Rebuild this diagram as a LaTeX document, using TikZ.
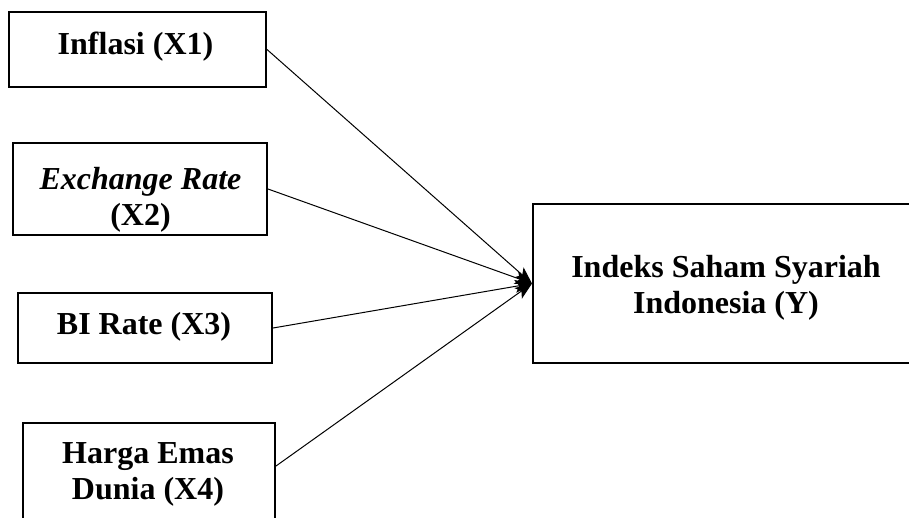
\documentclass[tikz,border=0pt]{standalone}
\usepackage{fontspec}
\setmainfont{Liberation Serif}
\usetikzlibrary{arrows.meta}
\begin{document}
\begin{tikzpicture}[x=1pt,y=1pt,
  varbox/.style={draw=black,line width=2pt,rectangle,inner sep=0pt},
  lbl/.style={font=\fontsize{32}{36}\selectfont\bfseries,align=center,anchor=base,inner sep=0pt},
  conn/.style={draw=black,line width=1pt,-{Stealth[length=17pt,width=13pt,inset=4pt]}}]
\clip (0,0) rectangle (909,-517);
\useasboundingbox (0,0) rectangle (909,-517);
% boxes
\node[varbox,minimum width=257pt,minimum height=75pt] (x1) at (137.5,-49.5) {};
\node[varbox,minimum width=254pt,minimum height=92pt] (x2) at (140,-189) {};
\node[varbox,minimum width=254pt,minimum height=70pt] (x3) at (145,-328) {};
\node[varbox,minimum width=252pt,minimum height=107pt] (x4) at (149,-476.5) {};
\node[varbox,minimum width=382pt,minimum height=159pt] (y) at (724,-283.5) {};
% texts
\node[lbl] (t1) at (135.5,-54) {Inflasi (X1)};
\node[lbl] (t2) at (140.5,-225) {\textit{Exchange Rate}\\(X2)};
\node[lbl] (t3) at (144,-334) {BI Rate (X3)};
\node[lbl] (t4) at (148,-499) {Harga Emas\\Dunia (X4)};
\node[lbl] (t5) at (726,-313) {Indeks Saham Syariah\\Indonesia (Y)};
% connectors
\coordinate (x4e) at ([yshift=-44pt]x4.north east);
\draw[conn] (x1.east) -- (y.west);
\draw[conn] (x2.east) -- (y.west);
\draw[conn] (x3.east) -- (y.west);
\draw[conn] (x4e) -- (y.west);
\end{tikzpicture}
\end{document}
